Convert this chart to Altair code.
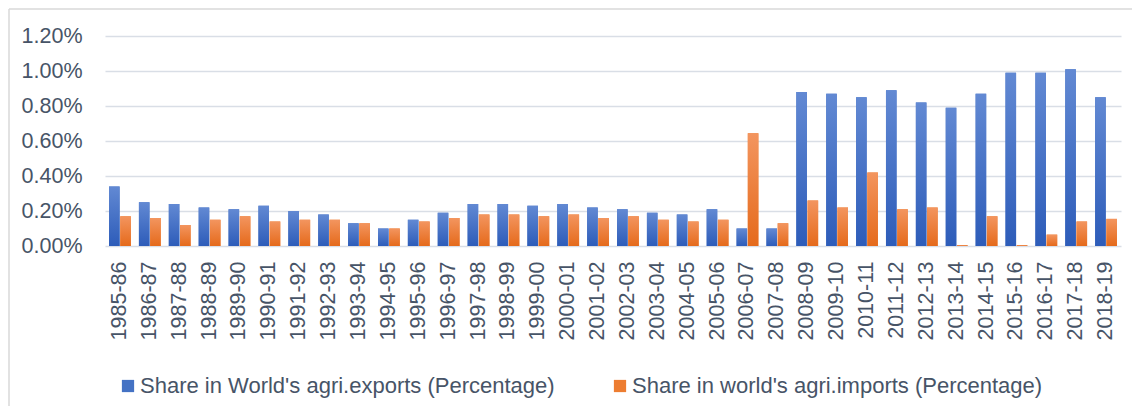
import altair as alt
import pandas as pd

years = ["1985-86", "1986-87", "1987-88", "1988-89", "1989-90", "1990-91", "1991-92",
         "1992-93", "1993-94", "1994-95", "1995-96", "1996-97", "1997-98", "1998-99",
         "1999-00", "2000-01", "2001-02", "2002-03", "2003-04", "2004-05", "2005-06",
         "2006-07", "2007-08", "2008-09", "2009-10", "2010-11", "2011-12", "2012-13",
         "2013-14", "2014-15", "2015-16", "2016-17", "2017-18", "2018-19"]

exports = [0.34, 0.25, 0.24, 0.22, 0.21, 0.23, 0.20, 0.18, 0.13, 0.10, 0.15, 0.19,
           0.24, 0.24, 0.23, 0.24, 0.22, 0.21, 0.19, 0.18, 0.21, 0.10, 0.10, 0.88,
           0.87, 0.85, 0.89, 0.82, 0.79, 0.87, 0.99, 0.99, 1.01, 0.85]

imports = [0.17, 0.16, 0.12, 0.15, 0.17, 0.14, 0.15, 0.15, 0.13, 0.10, 0.14, 0.16,
           0.18, 0.18, 0.17, 0.18, 0.16, 0.17, 0.15, 0.14, 0.15, 0.645, 0.13, 0.26,
           0.22, 0.42, 0.21, 0.22, 0.005, 0.17, 0.005, 0.065, 0.14, 0.155]

EXP = "Share in World's agri.exports (Percentage)"
IMP = "Share in world's agri.imports (Percentage)"
series_order = [EXP, IMP]

n = len(years)
df = pd.DataFrame({
    "year": years * 2,
    "series": [EXP] * n + [IMP] * n,
    "value": exports + imports,
})

FONT = "Liberation Sans"
TXT = "#475467"

x = alt.X("year:N", sort=years,
          scale=alt.Scale(paddingInner=0.27, paddingOuter=0.135),
          axis=alt.Axis(title=None, labelAngle=270, ticks=False, domain=False,
                        labelPadding=15, labelFontSize=21.5, labelColor=TXT,
                        labelFont=FONT, grid=False))
xo = alt.XOffset("series:N", sort=series_order, scale=alt.Scale(paddingInner=0.06))
y = alt.Y("value:Q", scale=alt.Scale(domain=[0, 1.2]),
          axis=alt.Axis(title=None, values=[0, 0.2, 0.4, 0.6, 0.8, 1.0, 1.2],
                        labelExpr="format(datum.value, '.2f') + '%'",
                        ticks=False, domain=False, labelPadding=23,
                        labelFontSize=21.5, labelColor=TXT, labelFont=FONT,
                        gridColor="#d9dee6", gridWidth=1.6))

base = alt.Chart(df).mark_bar().encode(
    x=x, xOffset=xo, y=y,
    color=alt.Color("series:N", sort=series_order,
                    scale=alt.Scale(domain=series_order, range=["#4472c4", "#ed7d31"]),
                    legend=alt.Legend(title=None, orient="none", legendX=12, legendY=339,
                                      direction="horizontal", symbolType="square",
                                      symbolSize=150, symbolStrokeWidth=0,
                                      labelFontSize=22, labelFont=FONT, labelColor=TXT,
                                      columnPadding=54, labelOffset=1, labelLimit=600)),
)

blue_grad = alt.Gradient(gradient="linear", x1=0, x2=0, y1=0, y2=1,
                         stops=[alt.GradientStop(offset=0, color="#6289d3"),
                                alt.GradientStop(offset=1, color="#2d5cb9")])
orange_grad = alt.Gradient(gradient="linear", x1=0, x2=0, y1=0, y2=1,
                           stops=[alt.GradientStop(offset=0, color="#f3955f"),
                                  alt.GradientStop(offset=1, color="#e56a1b")])

exp_layer = alt.Chart(df).transform_filter(alt.datum.series == EXP).mark_bar(
    color=blue_grad).encode(x=x, xOffset=xo, y=y)
imp_layer = alt.Chart(df).transform_filter(alt.datum.series == IMP).mark_bar(
    color=orange_grad).encode(x=x, xOffset=xo, y=y)

one = pd.DataFrame({"a": [0]})
left_border = alt.Chart(one).mark_rule(color="#d9d9d9", strokeWidth=1.5).encode(
    x=alt.value(-96), y=alt.value(-27), y2=alt.value(370))
top_border = alt.Chart(one).mark_rule(color="#d9d9d9", strokeWidth=1.5).encode(
    x=alt.value(-96), x2=alt.value(1030), y=alt.value(-27))

chart = alt.layer(left_border, top_border, base, exp_layer, imp_layer).properties(
    width=1016, height=210,
    autosize=alt.AutoSizeParams(type="none"),
    padding={"left": 97, "top": 28, "right": 11, "bottom": 160},
    background="white",
).configure_view(stroke=None)

chart.save("out.html", embed_options={"renderer": "svg", "actions": False})
